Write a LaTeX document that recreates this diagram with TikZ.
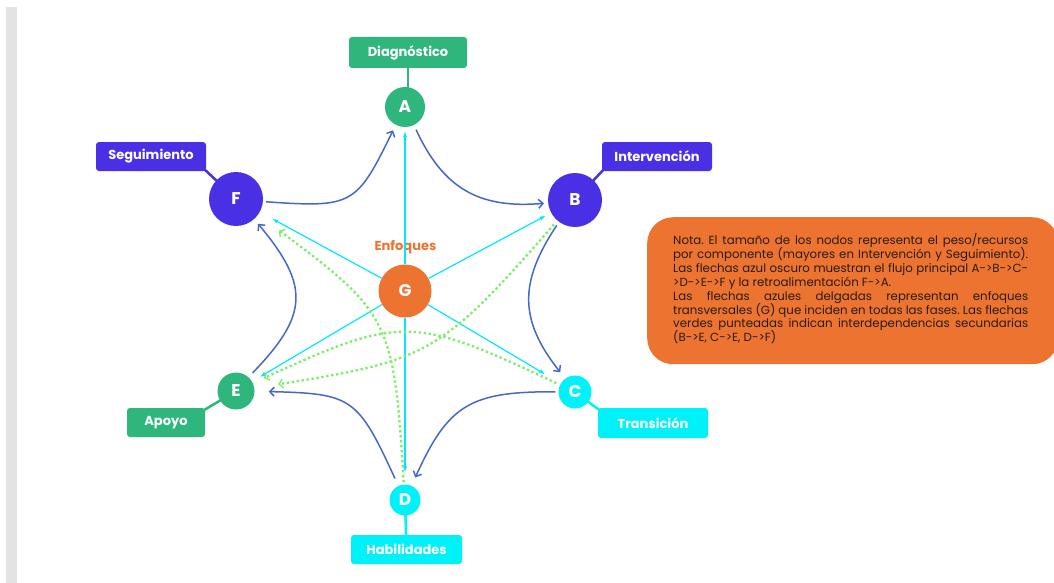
\documentclass[tikz,border=0pt]{standalone}
\usepackage{fontspec}
\setmainfont{Poppins}
\usetikzlibrary{arrows.meta,backgrounds,calc}
\definecolor{cgreen}{RGB}{46,182,125}
\definecolor{cpurple}{RGB}{74,48,228}
\definecolor{ccyan}{RGB}{0,242,248}
\definecolor{corange}{RGB}{237,115,48}
\definecolor{flowblue}{RGB}{70,106,196}
\definecolor{cyanarr}{RGB}{0,232,255}
\definecolor{depgreen}{RGB}{120,240,100}
\definecolor{barg}{RGB}{227,227,227}
\definecolor{notetext}{RGB}{40,28,22}
\begin{document}
\begin{tikzpicture}[x=1pt,y=-1pt]
\tikzset{
  circ/.style={circle, inner sep=0pt, text=white, font=\fontsize{17}{17}\selectfont\bfseries},
  lab/.style={rounded corners=3pt, text=white, inner sep=0pt, font=\fontsize{13}{13}\selectfont\bfseries},
  flow/.style={draw=flowblue, line width=1.5pt, -{Straight Barb[length=4.5pt,width=9pt]}},
  focus/.style={draw=cyanarr, line width=1.2pt, -{Latex[length=6pt,width=4.5pt]}},
  dep/.style={draw=depgreen, line width=2.3pt, dash pattern=on 2.3pt off 2.7pt, -{Straight Barb[length=4pt,width=9pt,line width=1.3pt]}},
  link/.style={line width=2.5pt},
  notebox/.style={fill=corange, rounded corners=26pt, inner sep=0pt},
  noteline/.style={anchor=base west, inner sep=0pt, text=notetext, font=\fontsize{11.8}{13.9}\selectfont\frenchspacing}
}
\useasboundingbox (0,0) rectangle (1054,583);

% main nodes
\node[circ, fill=cgreen, minimum size=40pt] (A) at (405,107) {A};
\node[circ, fill=cpurple, minimum size=54pt] (B) at (575,200) {B};
\node[circ, fill=ccyan, minimum size=33pt] (C) at (575,392) {C};
\node[circ, fill=ccyan, minimum size=31pt] (D) at (405,500) {D};
\node[circ, fill=cgreen, minimum size=37pt] (E) at (236,391) {E};
\node[circ, fill=cpurple, minimum size=54pt] (F) at (236,199) {F};
\node[circ, fill=corange, minimum size=53pt] (G) at (405,291) {G};

% labels
\node[lab, fill=cgreen, minimum width=118pt, minimum height=31pt] (lA) at (408,52.5) {Diagnóstico};
\node[lab, fill=cpurple, minimum width=110pt, minimum height=29pt] (lB) at (657,156.5) {Intervención};
\node[lab, fill=ccyan, minimum width=110pt, minimum height=30pt] (lC) at (653,423) {Transición};
\node[lab, fill=ccyan, minimum width=111pt, minimum height=29pt] (lD) at (406.5,549.5) {Habilidades};
\node[lab, fill=cgreen, minimum width=78pt, minimum height=29pt] (lE) at (166,422.5) {Apoyo};
\node[lab, fill=cpurple, minimum width=110pt, minimum height=29pt] (lF) at (151,156.5) {Seguimiento};

\node[text=corange, font=\fontsize{13}{13}\selectfont\bfseries] (enf) at (405.5,247) {Enfoques};

\begin{pgfonlayer}{background}
  \fill[white] (0,0) rectangle (1054,583);
  \fill[barg] (6,7) rectangle (17,583);
  \draw[link, cgreen] (lA.south) -- (lA.south |- A.center);
  \draw[link, cpurple] (B.center) -- ([shift={(4,-4)}]lB.south west);
  \draw[link, ccyan] (C.center) -- ([shift={(4,4)}]lC.north west);
  \draw[link, ccyan] (D.center) -- (lD.center);
  \draw[link, cgreen] (E.center) -- ([shift={(-4,4)}]lE.north east);
  \draw[link, cpurple] (F.center) -- ([shift={(-4,-4)}]lF.south east);
\end{pgfonlayer}

% main flow
\draw[flow, shorten <=5pt, shorten >=4pt] (A) to[bend right=35, looseness=1.15] (B);
\draw[flow, shorten <=4pt, shorten >=8pt] (B) to[bend right=36, looseness=1.2] (C);
\draw[flow, shorten <=3pt, shorten >=9pt] (C) to[bend right=33, looseness=1.3] (D);
\draw[flow, shorten <=8pt, shorten >=14pt] (D) to[bend right=32, looseness=1.45] (E);
\draw[flow, shorten <=6pt, shorten >=6pt] (E) to[bend right=42, looseness=1.4] (F);
\draw[flow, shorten <=3pt, shorten >=6pt] (F) to[bend right=34, looseness=1.5] (A);

% transversal
\draw[focus, shorten >=4pt] (G) -- (A);
\draw[focus, shorten >=6pt] (G) -- (B);
\draw[focus, shorten >=18pt] (G) -- (C);
\draw[focus, shorten >=12pt] (G) -- (D);
\draw[focus, shorten >=9pt] (G) -- (E);
\draw[focus, shorten >=14pt] (G) -- (F);

% secondary
\draw[dep, shorten <=5pt, shorten >=24pt] (B) to[bend left=20, looseness=1.3] (E);
\draw[dep, shorten <=4pt, shorten >=12pt] (C) to[bend right=25, looseness=1.35] (E);
\draw[dep, shorten <=2pt, shorten >=26pt] (D) to[bend right=25, looseness=1.37] (F);

% note
\node[notebox, anchor=north west, minimum width=411pt, minimum height=147pt] (note) at (647,217) {};
\node[noteline] (n1) at (673,244.5) {\makebox[355pt][s]{Nota. El tamaño de los nodos representa el peso/recursos}};
\node[noteline] (n2) at (673,258.4) {\makebox[355pt][s]{por componente (mayores en Intervención y Seguimiento).}};
\node[noteline] (n3) at (673,272.3) {\makebox[355pt][s]{Las flechas azul oscuro muestran el flujo principal A->B->C-}};
\node[noteline] (n4) at (673,286.2) {>D->E->F y la retroalimentación F->A.};
\node[noteline] (n5) at (673,300.1) {\makebox[355pt][s]{Las flechas azules delgadas representan enfoques}};
\node[noteline] (n6) at (673,314.0) {\makebox[355pt][s]{transversales (G) que inciden en todas las fases. Las flechas}};
\node[noteline] (n7) at (673,327.9) {\makebox[355pt][s]{verdes punteadas indican interdependencias secundarias}};
\node[noteline] (n8) at (673,341.8) {(B->E, C->E, D->F)};
\end{tikzpicture}
\end{document}
